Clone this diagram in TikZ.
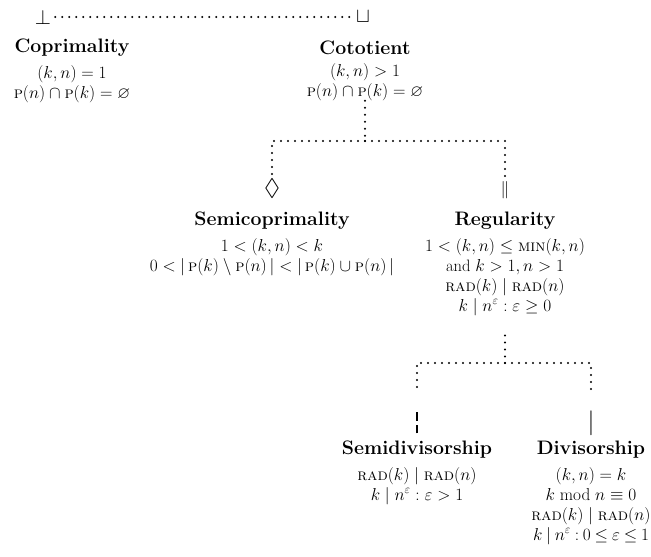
\documentclass[tikz,border=0pt]{standalone}
\usepackage{amsmath}
\usepackage{amssymb}
\usetikzlibrary{positioning}
\newcommand{\tightrel}{\thickmuskip=4mu plus 2mu\relax}
\tikzstyle{title} = [
    font=\fontsize{19.5}{22}\selectfont\bfseries,
    inner sep=0pt
]
\tikzstyle{body} = [
    font=\fontsize{16.5}{20}\selectfont,
    align=center,
    inner sep=0pt
]
\tikzstyle{glyph} = [
    font=\fontsize{20}{20}\selectfont,
    inner sep=4pt
]
\tikzstyle{link} = [
    line width=2.2pt,
    line cap=round,
    draw=black,
    dash pattern=on 0pt off 7pt
]
\newcommand{\pf}{\textsc{p}}
\newcommand{\rd}{\textsc{rad}}
\newcommand{\brokenbar}{\vbox{\hrule width 1.2pt height 8.5pt\vskip 4pt\hrule width 1.2pt height 8.5pt}}

\begin{document}
\begin{tikzpicture}[x=1pt, y=1pt]
        \useasboundingbox (0,0) rectangle (651,557);

        % Bottom and top
        \node[glyph] (bot) at (43,540) {$\bot$};
        \node[glyph] (cup) at (363,540) {$\sqcup$};
        \draw[link] (bot) -- (cup);

        % Coprimality
        \node[title] (coprT) at (72,509) {Coprimality};
        \node[body, below=8pt of coprT] (coprB) {
            $(k,n)=1$\\
            $\pf(n)\cap\pf(k)=\varnothing$
        };

        % Cototient
        \node[title] (cotT) at (365,509) {Cototient};
        \node[body, below=8pt of cotT] (cotB) {
            $(k,n)>1$\\
            $\pf(n)\cap\pf(k)=\varnothing$
        };
        \coordinate (split1) at (365,416);

        % Semicoprimality
        \node[glyph, font=\fontsize{24}{24}\selectfont, inner sep=3pt] (semiG) at (272,368) {$\lozenge$};
        \node[title] (semiT) at (272,336) {Semicoprimality};
        \node[body, below=8pt of semiT] (semiB) {
            $1<(k,n)<k$\\
            $0<\lvert\,\pf(k)\setminus\pf(n)\,\rvert<\lvert\,\pf(k)\cup\pf(n)\,\rvert$
        };

        % Regularity
        \node[glyph, font=\fontsize{18}{18}\selectfont] (regG) at (505,367) {$\|$};
        \node[title] (regT) at (505,336) {Regularity};
        \node[body, below=8pt of regT] (regB) {
            $1<(k,n)\leq\textsc{min}(k,n)$\\
            and $k>1,n>1$\\
            $\rd(k)\mid\rd(n)$\\
            $k\mid n^{\varepsilon}:\varepsilon\geq0$
        };
        \coordinate (split2) at (505,194);

        % Semidivisorship
        \node[glyph, inner xsep=4pt, inner ysep=20pt] (sdivG) at (417,134) {\brokenbar};
        \node[title] (sdivT) at (417,107) {Semidivisorship};
        \node[body, below=8pt of sdivT] (sdivB) {
            $\rd(k)\mid\rd(n)$\\
            $k\mid n^{\varepsilon}:\varepsilon>1$
        };

        % Divisorship
        \node[glyph, font=\fontsize{23}{23}\selectfont, inner xsep=2pt, inner ysep=19pt] (divG) at (591,134) {$|$};
        \node[title] (divT) at (591,107) {Divisorship};
        \node[body, below=8pt of divT] (divB) {
            $(k,n)=k$\\
            $k\bmod n\equiv0$\\
            $\rd(k)\mid\rd(n)$\\
            {\tightrel$k\mid n^{\varepsilon}:0\leq\varepsilon\leq1$}
        };

        % Links
        \draw[link] (cotB) -- (split1);
        \draw[link] (split1) -| (semiG);
        \draw[link] (split1) -| (regG);
        \draw[link, shorten <=20pt] (regB) -- (split2);
        \draw[link] (split2) -| (sdivG);
        \draw[link] (split2) -| (divG);
    \end{tikzpicture}
\end{document}
